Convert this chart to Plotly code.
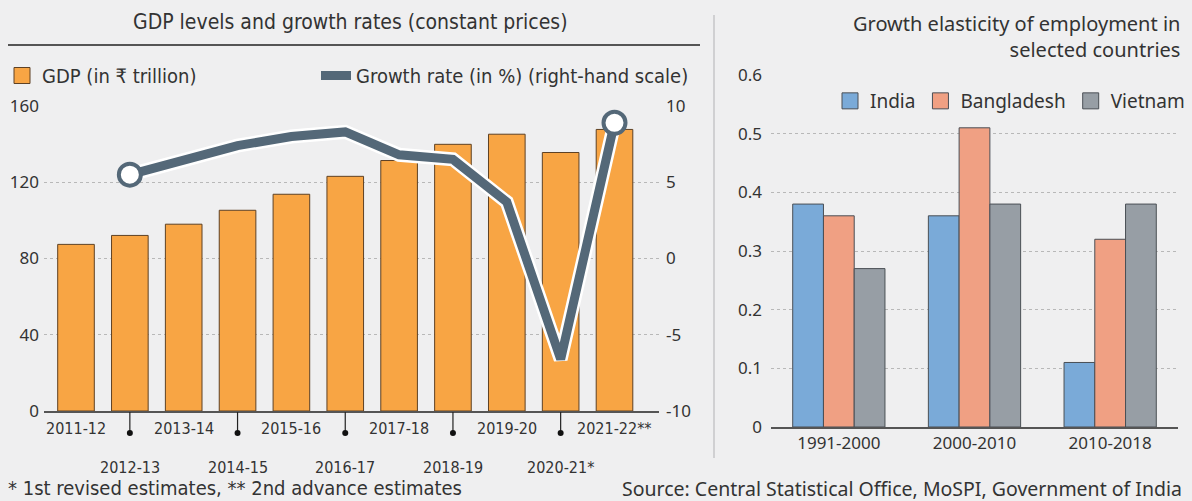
import plotly.graph_objects as go

# ---------------- data ----------------
years = ["2011-12", "2012-13", "2013-14", "2014-15", "2015-16", "2016-17",
         "2017-18", "2018-19", "2019-20", "2020-21*", "2021-22**"]
gdp = [87.4, 92.1, 98.0, 105.3, 113.7, 123.1, 131.4, 139.9, 145.2, 135.6, 147.7]
growth_years = years[1:]
growth = [5.5, 6.4, 7.4, 8.0, 8.3, 6.8, 6.5, 3.7, -6.6, 8.9]

periods = ["1991-2000", "2000-2010", "2010-2018"]
india = [0.38, 0.36, 0.11]
bangladesh = [0.36, 0.51, 0.32]
vietnam = [0.27, 0.38, 0.38]

gdp_ticks = [0, 40, 80, 120, 160]
growth_ticks = [-10, -5, 0, 5, 10]
elas_ticks = [0, 0.1, 0.2, 0.3, 0.4, 0.5, 0.6]

# ---------------- styles ----------------
W, H = 1192, 501
BG = "#efeff0"
NARROW = "Liberation Sans Narrow, DejaVu Sans Condensed, Arial Narrow, sans-serif"
WIDE = "Noto Sans, Open Sans, sans-serif"
TXT = "#333333"
ORANGE = "#f8a544"
LINEC = "#546878"

def px(x):
    return x / W

def py(y):
    return 1 - y / H

fig = go.Figure()

# GDP bars
fig.add_trace(go.Bar(x=years, y=gdp, marker=dict(color=ORANGE, line=dict(color="#5e4124", width=1)),
                     xaxis="x", yaxis="y", showlegend=False, hoverinfo="x+y"))
# legend proxy
fig.add_trace(go.Scatter(x=[None], y=[None], mode="markers", name="GDP (in ₹ trillion)",
                         marker=dict(symbol="square", size=16, color=ORANGE, line=dict(color="#5e4124", width=1)),
                         xaxis="x", yaxis="y", legend="legend"))
# growth line with white halo
fig.add_trace(go.Scatter(x=growth_years, y=growth, mode="lines", line=dict(color="white", width=14),
                         xaxis="x", yaxis="y2", showlegend=False, hoverinfo="skip"))
fig.add_trace(go.Scatter(x=growth_years, y=growth, mode="lines", line=dict(color=LINEC, width=9),
                         name="Growth rate (in %) (right-hand scale)", xaxis="x", yaxis="y2", legend="legend3"))
fig.add_trace(go.Scatter(x=[growth_years[0], growth_years[-1]], y=[growth[0], growth[-1]], mode="markers",
                         marker=dict(size=22, color="white", line=dict(color=LINEC, width=4)),
                         xaxis="x", yaxis="y2", showlegend=False))

# Elasticity bars
for name, vals, col in [("India", india, "#7aaad8"), ("Bangladesh", bangladesh, "#f0a083"),
                        ("Vietnam", vietnam, "#979ea5")]:
    fig.add_trace(go.Bar(x=periods, y=vals, marker=dict(color=col, line=dict(color="#4a4f55", width=1)),
                         xaxis="x3", yaxis="y3", showlegend=False))
    fig.add_trace(go.Scatter(x=[None], y=[None], mode="markers", name=name,
                             marker=dict(symbol="square", size=16, color=col, line=dict(color="#4a4f55", width=1)),
                             xaxis="x3", yaxis="y3", legend="legend2"))

# x tick labels (alternating rows) for left chart
annotations = []
shapes = []
for i, yr in enumerate(years):
    if i % 2 == 0:
        annotations.append(dict(x=yr, xref="x", y=py(428), yref="paper", text=yr, showarrow=False,
                                font=dict(family=NARROW, size=16, color=TXT), xanchor="center", yanchor="middle"))
    else:
        annotations.append(dict(x=yr, xref="x", y=py(467), yref="paper", text=yr, showarrow=False,
                                font=dict(family=NARROW, size=16, color=TXT), xanchor="center", yanchor="middle"))
        shapes.append(dict(type="line", xref="x", x0=yr, x1=yr, yref="paper", y0=py(412), y1=py(433),
                           line=dict(color="#222", width=1.2)))
        shapes.append(dict(type="circle", xref="x", xsizemode="pixel", xanchor=i, x0=-3, x1=3,
                           yref="paper", ysizemode="pixel", yanchor=py(433), y0=-3, y1=3,
                           fillcolor="#111", line=dict(color="#111", width=0)))

# titles, footers
annotations += [
    dict(x=px(350), y=py(22), xref="paper", yref="paper", text="GDP levels and growth rates (constant prices)",
         showarrow=False, font=dict(family=NARROW, size=21, color=TXT), xanchor="center", yanchor="middle"),
    dict(x=px(1182), y=py(37), xref="paper", yref="paper",
         text="Growth elasticity of employment in<br>selected countries", align="right",
         showarrow=False, font=dict(family=WIDE, size=20, color=TXT), xanchor="right", yanchor="middle"),
    dict(x=px(6), y=py(488), xref="paper", yref="paper", text="* 1st revised estimates, ** 2nd advance estimates",
         showarrow=False, font=dict(family=NARROW, size=20, color=TXT), xanchor="left", yanchor="middle"),
    dict(x=px(1184), y=py(488), xref="paper", yref="paper",
         text="Source: Central Statistical Office, MoSPI, Government of India",
         showarrow=False, font=dict(family=WIDE, size=19.5, color=TXT), xanchor="right", yanchor="middle"),
]

shapes += [
    dict(type="line", xref="paper", yref="paper", x0=px(8), x1=px(700), y0=py(45), y1=py(45),
         line=dict(color="#555", width=2)),
    dict(type="line", xref="paper", yref="paper", x0=px(714), x1=px(714), y0=py(15), y1=py(458),
         line=dict(color="#d0d0d2", width=2)),
]

fig.update_layout(
    width=W, height=H, paper_bgcolor=BG, plot_bgcolor=BG,
    margin=dict(l=0, r=0, t=0, b=0, autoexpand=False),
    bargap=0.32,
    font=dict(family=NARROW, color=TXT),
    xaxis=dict(domain=[px(44), px(659)], anchor="y", type="category", showticklabels=False,
               showline=True, linecolor="#555", linewidth=2, ticks="", showgrid=False, fixedrange=True),
    yaxis=dict(domain=[py(411), py(106)], range=[0, 160], tickvals=gdp_ticks, showgrid=True,
               gridcolor="#b8b8b8", griddash="dot", gridwidth=1, zeroline=False, ticks="",
               tickfont=dict(family=WIDE, size=17, color=TXT), ticklabelstandoff=4),
    yaxis2=dict(overlaying="y", side="right", anchor="x", range=[-10, 10], tickvals=growth_ticks,
                ticktext=["-10", "-5", "0", "5", "10"],
                showgrid=False, zeroline=False, ticks="", tickfont=dict(family=WIDE, size=17, color=TXT),
                ticklabelstandoff=6),
    xaxis3=dict(domain=[px(771), px(1178)], anchor="y3", type="category", showline=True,
                linecolor="#555", linewidth=2, ticks="", tickfont=dict(family=WIDE, size=17, color=TXT),
                showgrid=False),
    yaxis3=dict(domain=[py(427), py(75)], anchor="x3", range=[0, 0.6], tickvals=elas_ticks,
                ticktext=["0", "0.1", "0.2", "0.3", "0.4", "0.5", "0.6"], showgrid=True,
                gridcolor="#b8b8b8", griddash="dot", zeroline=False, ticks="",
                tickfont=dict(family=WIDE, size=17, color=TXT), ticklabelstandoff=8),
    legend=dict(orientation="h", x=px(2), y=py(56), xanchor="left", yanchor="top",
                bgcolor="rgba(0,0,0,0)", font=dict(family=NARROW, size=20, color=TXT), itemwidth=30),
    legend3=dict(orientation="h", x=px(694), y=py(56), xanchor="right", yanchor="top",
                 bgcolor="rgba(0,0,0,0)", font=dict(family=NARROW, size=20, color=TXT), itemwidth=30),
    legend2=dict(orientation="h", x=px(1190), y=py(82), xanchor="right", yanchor="top",
                 bgcolor="rgba(0,0,0,0)", font=dict(family=WIDE, size=19, color=TXT), itemwidth=30),
    annotations=annotations,
    shapes=shapes,
    barmode="group",
)

fig.write_html("out.html", config={"displayModeBar": False},
               post_script="document.body.style.margin='0px';document.body.style.overflow='hidden';")
